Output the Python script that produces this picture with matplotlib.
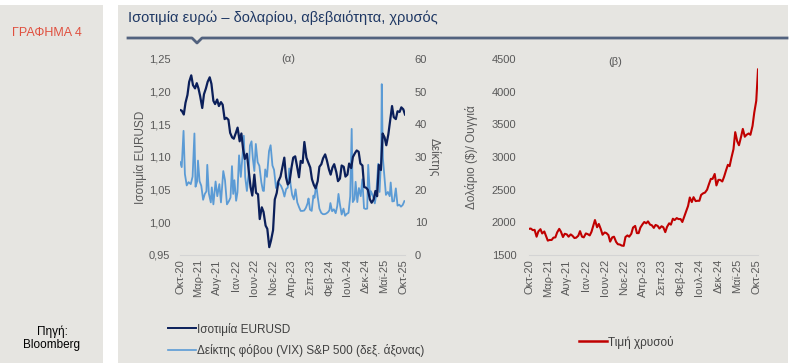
import matplotlib
matplotlib.use('Agg')
import matplotlib.pyplot as plt
import matplotlib.patches as patches
from matplotlib.lines import Line2D
from matplotlib.ticker import FuncFormatter
import pandas as pd

plt.rcParams['font.family'] = ['Liberation Sans', 'DejaVu Sans']

# semi-monthly observations, Oct 2020 - Oct 2025
eurusd = [1.172, 1.171, 1.165, 1.183, 1.195, 1.215,
          1.225, 1.210, 1.205, 1.213, 1.205, 1.193, 1.175, 1.196, 1.205, 1.215, 1.222, 1.212,
          1.186, 1.181, 1.188, 1.178, 1.184, 1.180, 1.158, 1.160, 1.157, 1.137, 1.130, 1.128,
          1.137, 1.145, 1.124, 1.136, 1.112, 1.097, 1.105, 1.081, 1.054, 1.041, 1.073, 1.045,
          1.043, 1.005, 1.023, 1.016, 0.995, 0.990, 0.962, 0.972, 0.988, 1.035, 1.045, 1.063,
          1.070, 1.083, 1.099, 1.069, 1.058, 1.061, 1.084, 1.099, 1.101, 1.087, 1.069, 1.094,
          1.091, 1.123, 1.099, 1.092, 1.084, 1.066, 1.057, 1.052, 1.063, 1.085, 1.089, 1.098,
          1.104, 1.095, 1.081, 1.073, 1.084, 1.089, 1.077, 1.063, 1.067, 1.087, 1.085, 1.070,
          1.073, 1.090, 1.083, 1.100, 1.106, 1.110, 1.108, 1.090, 1.087, 1.054, 1.053, 1.050,
          1.035, 1.030, 1.035, 1.048, 1.040, 1.088, 1.080, 1.136, 1.130, 1.118, 1.135, 1.155,
          1.178, 1.161, 1.158, 1.170, 1.169, 1.176, 1.173, 1.165]

gold = [1900, 1905, 1880, 1885, 1780, 1860,
        1895, 1830, 1860, 1790, 1720, 1730, 1730, 1765, 1770, 1845, 1900, 1855,
        1775, 1825, 1815, 1780, 1815, 1795, 1760, 1765, 1795, 1865, 1780, 1770,
        1830, 1820, 1800, 1855, 1945, 2035, 1925, 1975, 1895, 1810, 1845, 1835,
        1805, 1705, 1770, 1780, 1700, 1665, 1660, 1645, 1640, 1775, 1800, 1780,
        1825, 1920, 1945, 1835, 1835, 1920, 1970, 2005, 1985, 2015, 1965, 1955,
        1915, 1960, 1945, 1905, 1940, 1925, 1850, 1930, 1985, 1965, 2055, 2035,
        2065, 2050, 2050, 2005, 2085, 2160, 2250, 2380, 2310, 2385, 2325, 2330,
        2330, 2420, 2445, 2455, 2500, 2580, 2665, 2665, 2740, 2565, 2650, 2650,
        2625, 2695, 2800, 2880, 2860, 2985, 3120, 3380, 3240, 3180, 3310, 3430,
        3310, 3340, 3360, 3340, 3475, 3680, 3860, 4340]

vix_dates = ['2020-10-01', '2020-10-15', '2020-10-30', '2020-11-10', '2020-11-25', '2020-12-10',
             '2020-12-28', '2021-01-12', '2021-01-27', '2021-02-05', '2021-02-18', '2021-02-25',
             '2021-03-10', '2021-03-24', '2021-04-08', '2021-04-22', '2021-05-05', '2021-05-12',
             '2021-05-25', '2021-06-10', '2021-06-18', '2021-07-01', '2021-07-19', '2021-08-02',
             '2021-08-19', '2021-09-01', '2021-09-20', '2021-10-04', '2021-10-20', '2021-11-05',
             '2021-11-18', '2021-11-30', '2021-12-10', '2021-12-20', '2022-01-03', '2022-01-14',
             '2022-01-27', '2022-02-10', '2022-02-24', '2022-03-07', '2022-03-18', '2022-04-01',
             '2022-04-14', '2022-04-26', '2022-05-09', '2022-05-20', '2022-06-01', '2022-06-13',
             '2022-06-28', '2022-07-12', '2022-07-28', '2022-08-10', '2022-08-18', '2022-08-29',
             '2022-09-12', '2022-09-29', '2022-10-12', '2022-10-27', '2022-11-09', '2022-11-25',
             '2022-12-08', '2022-12-20', '2023-01-06', '2023-01-20', '2023-02-02', '2023-02-16',
             '2023-03-01', '2023-03-13', '2023-03-24', '2023-04-06', '2023-04-20', '2023-05-04',
             '2023-05-18', '2023-06-02', '2023-06-15', '2023-06-29', '2023-07-13', '2023-07-27',
             '2023-08-10', '2023-08-18', '2023-08-30', '2023-09-13', '2023-09-27', '2023-10-06',
             '2023-10-20', '2023-10-31', '2023-11-15', '2023-11-30', '2023-12-14', '2023-12-28',
             '2024-01-10', '2024-01-24', '2024-02-05', '2024-02-13', '2024-02-27', '2024-03-12',
             '2024-03-27', '2024-04-09', '2024-04-19', '2024-04-30', '2024-05-15', '2024-05-30',
             '2024-06-12', '2024-06-26', '2024-07-10', '2024-07-24', '2024-08-05', '2024-08-14',
             '2024-08-28', '2024-09-06', '2024-09-20', '2024-10-03', '2024-10-18', '2024-10-31',
             '2024-11-14', '2024-11-27', '2024-12-10', '2024-12-18', '2025-01-02', '2025-01-10',
             '2025-01-27', '2025-02-10', '2025-02-21', '2025-03-10', '2025-03-21', '2025-04-03',
             '2025-04-08', '2025-04-17', '2025-04-29', '2025-05-12', '2025-05-28', '2025-06-12',
             '2025-06-20', '2025-07-03', '2025-07-17', '2025-08-01', '2025-08-15', '2025-08-29',
             '2025-09-12', '2025-09-26', '2025-10-10']
vix = [28.5, 26.9, 38.0, 24.8, 21.3, 22.3,
       21.7, 24.0, 37.2, 20.9, 22.5, 28.9,
       22.6, 21.2, 16.9, 18.7, 19.5, 27.6,
       18.8, 16.1, 20.7, 15.5, 22.5, 18.0,
       21.7, 16.1, 25.7, 22.9, 15.5, 16.5,
       17.6, 27.2, 18.7, 22.9, 16.6, 19.2,
       30.5, 23.9, 30.3, 36.5, 23.9, 19.6,
       24.4, 33.5, 34.8, 29.4, 25.7, 34.0,
       28.4, 27.3, 22.3, 19.7, 19.6, 26.2,
       23.9, 31.8, 33.6, 27.4, 26.1, 20.5,
       22.3, 21.9, 21.1, 19.8, 17.9, 20.2,
       20.6, 26.5, 21.7, 18.4, 17.0, 20.1,
       16.1, 14.6, 13.5, 13.5, 13.6, 14.4,
       15.8, 17.3, 13.9, 13.5, 18.2, 17.5,
       21.7, 18.1, 14.2, 12.9, 12.5, 12.5,
       12.7, 13.1, 13.7, 15.9, 13.4, 14.0,
       12.8, 15.0, 18.7, 15.7, 12.4, 14.2,
       12.0, 12.6, 12.9, 18.0, 38.6, 16.2,
       17.1, 22.4, 16.2, 20.5, 18.0, 23.2,
       14.3, 14.1, 14.2, 27.6, 17.9, 19.5,
       17.9, 15.8, 18.2, 27.9, 19.3, 30.0,
       52.3, 29.7, 24.2, 18.4, 19.3, 18.0,
       22.2, 16.4, 16.5, 20.4, 15.1, 15.4,
       14.8, 15.3, 16.5]

tick_labels = ['Οκτ-20', 'Μαρ-21', 'Αυγ-21', 'Ιαν-22', 'Ιουν-22', 'Νοε-22', 'Απρ-23',
               'Σεπ-23', 'Φεβ-24', 'Ιουλ-24', 'Δεκ-24', 'Μαϊ-25', 'Οκτ-25']

dates = pd.date_range('2020-10-01', periods=len(eurusd), freq='SMS')
vix_dates = pd.to_datetime(vix_dates)
tick_dates = pd.date_range('2020-10-01', periods=len(tick_labels), freq='5MS')

BG = '#e6e5e1'
GREY = '#595959'

fig = plt.figure(figsize=(8, 3.63), dpi=100)
fig.patch.set_facecolor('white')
# side box and main panel (behind the axes)
fig.patches.append(patches.Rectangle((0, 0), 103 / 800, 358 / 363, transform=fig.transFigure,
                                     facecolor=BG, edgecolor='none', zorder=-5))
fig.patches.append(patches.Rectangle((118 / 800, 0), 670 / 800, 358 / 363, transform=fig.transFigure,
                                     facecolor=BG, edgecolor='none', zorder=-5))

fig.text(47 / 800, 1 - 33 / 363, 'ΓΡΑΦΗΜΑ 4', color='#e0503f', fontsize=9, ha='center', va='center')
fig.text(52 / 800, 1 - 338 / 363, 'Πηγή:\nBloomberg', color='black', fontsize=8.5,
         ha='center', va='center', linespacing=1.1)
fig.text(128 / 800, 1 - 18 / 363, 'Ισοτιμία ευρώ – δολαρίου, αβεβαιότητα, χρυσός',
         color='#1f3864', fontsize=10.5, ha='left', va='center')

# header rule with a small notch
lx = [128, 192, 197, 202, 787]
ly = [38, 38, 43, 38, 38]
fig.lines.append(Line2D([x / 800 for x in lx], [1 - y / 363 for y in ly], transform=fig.transFigure,
                        color='#52627e', lw=2))


def style(ax):
    ax.set_facecolor(BG)
    for s in ['top', 'left', 'right']:
        ax.spines[s].set_visible(False)
    ax.spines['bottom'].set_color('#d4d4d4')
    ax.spines['bottom'].set_linewidth(0.8)
    ax.tick_params(length=0, colors=GREY, labelsize=8)
    ax.set_xticks(tick_dates)
    ax.set_xticklabels(tick_labels, rotation=90)
    ax.tick_params(axis='x', pad=3)
    ax.set_xlim(dates[0], dates[-1])


comma = FuncFormatter(lambda v, p: f'{v:.2f}'.replace('.', ','))

# (a) EURUSD & VIX
ax1 = fig.add_axes([180 / 800, 1 - 255 / 363, 225 / 800, 196 / 363])
style(ax1)
ax1.set_ylim(0.95, 1.25)
ax1.set_yticks([0.95, 1.00, 1.05, 1.10, 1.15, 1.20, 1.25])
ax1.yaxis.set_major_formatter(comma)
ax1.tick_params(axis='y', pad=7)
ax1.set_ylabel('Ισοτιμία EURUSD', color=GREY, fontsize=8.5, labelpad=1)
ax1.text(0.48, 1.0, '(α)', transform=ax1.transAxes, color=GREY, fontsize=8, ha='center', va='center')

ax2 = ax1.twinx()
for s in ['top', 'left', 'right', 'bottom']:
    ax2.spines[s].set_visible(False)
ax2.patch.set_visible(False)
ax2.plot(vix_dates, vix, color='#5b9bd5', lw=1.3, zorder=2)
ax2.set_ylim(0, 60)
ax2.set_yticks(range(0, 61, 10))
ax2.tick_params(length=0, colors=GREY, labelsize=8, pad=7)
ax2.set_ylabel('Δείκτης', color=GREY, fontsize=8.5, rotation=270, labelpad=10)
ax2.set_xlim(dates[0], dates[-1])

# EURUSD drawn on top of VIX
ax1.set_zorder(ax2.get_zorder() + 1)
ax1.patch.set_visible(False)
ax1.plot(dates, eurusd, color='#0b1f5a', lw=1.6, zorder=3)

h1 = Line2D([], [], color='#0b1f5a', lw=1.4)
h2 = Line2D([], [], color='#5b9bd5', lw=1.2)
fig.legend([h1, h2], ['Ισοτιμία EURUSD', 'Δείκτης φόβου (VIX) S&P 500 (δεξ. άξονας)'],
           loc='upper left', bbox_to_anchor=(157 / 800, 1 - 312 / 363), frameon=False,
           fontsize=8.5, labelcolor='#404040', handlelength=2.4, handletextpad=0.1, labelspacing=0.75)

# (b) gold
ax3 = fig.add_axes([529 / 800, 1 - 255 / 363, 229 / 800, 196 / 363])
style(ax3)
ax3.plot(dates, gold, color='#c00000', lw=1.5)
ax3.set_ylim(1500, 4500)
ax3.set_yticks(range(1500, 4501, 500))
ax3.tick_params(axis='y', pad=9)
ax3.set_ylabel('Δολάριο ($)/ Ουγγιά', color=GREY, fontsize=8.5, labelpad=10)
ax3.text(0.375, 0.985, '(β)', transform=ax3.transAxes, color=GREY, fontsize=8, ha='center', va='center')

h3 = Line2D([], [], color='#c00000', lw=1.8)
fig.legend([h3], ['Τιμή χρυσού'], loc='upper left', bbox_to_anchor=(568 / 800, 1 - 325 / 363),
           frameon=False, fontsize=8.5, labelcolor='#404040', handlelength=2.4, handletextpad=0.1)

fig.savefig('out.png', dpi=100, facecolor=fig.get_facecolor())
